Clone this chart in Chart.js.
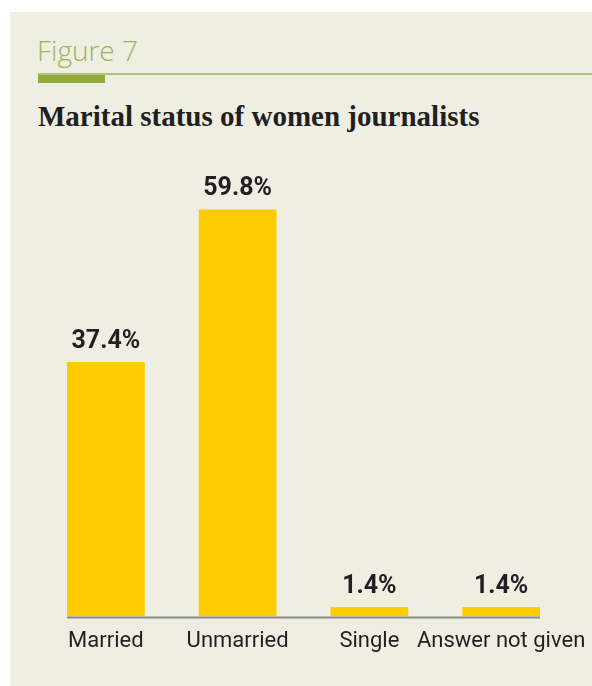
<!DOCTYPE html>
<html lang="en">
<head>
<meta charset="UTF-8">
<title>Figure 7 - Marital status of women journalists</title>
<script src="https://cdn.jsdelivr.net/npm/chart.js@4.4.0/dist/chart.umd.min.js"></script>
<style>
    html, body { margin: 0; padding: 0; background: #ffffff; }
    body { width: 592px; height: 686px; position: relative; overflow: hidden; }
    .panel {
        position: absolute; left: 10px; top: 12px; right: 0; bottom: 0;
        background: #efeee3;
    }
    .fig-label {
        position: absolute; left: 37px; top: 30px;
        font-family: "Open Sans", sans-serif; font-weight: 300;
        font-size: 28px; color: #9bb55a; line-height: 40px;
    }
    .rule {
        position: absolute; left: 38px; right: 0; top: 73px; height: 2px;
        background: #adc47a;
    }
    .rule-bar {
        position: absolute; left: 38px; width: 67px; top: 75px; height: 8px;
        background: #94ab3c;
    }
    .title {
        position: absolute; left: 38px; top: 96px;
        font-family: "Liberation Serif", "DejaVu Serif", serif; font-weight: bold;
        font-size: 29px; color: #231f20; line-height: 40px;
    }
    #chartBox {
        position: absolute; left: 0; top: 130px; width: 592px; height: 537px;
    }
</style>
</head>
<body>
    <div class="panel"></div>
    <div class="fig-label">Figure 7</div>
    <div class="rule"></div>
    <div class="rule-bar"></div>
    <div class="title">Marital status of women journalists</div>
    <div id="chartBox"><canvas id="maritalChart"></canvas></div>

<script>
    const categories = ['Married', 'Unmarried', 'Single', 'Answer not given'];
    const shares = [37.4, 59.8, 1.4, 1.4];
    const shareLabels = ['37.4%', '59.8%', '1.4%', '1.4%'];

    const textColor = '#231f20';
    const labelFont = 'Roboto, "DejaVu Sans", sans-serif';

    // values above each bar + the grey base line under the bars
    const barExtras = {
        id: 'barExtras',
        afterDatasetsDraw(chart) {
            const ctx = chart.ctx;
            const bars = chart.getDatasetMeta(0).data;
            ctx.save();
            const first = bars[0], last = bars[bars.length - 1];
            ctx.strokeStyle = '#8c8c8c';
            ctx.lineWidth = 2;
            ctx.beginPath();
            ctx.moveTo(first.x - first.width / 2, chart.chartArea.bottom + 1);
            ctx.lineTo(last.x + last.width / 2, chart.chartArea.bottom + 1);
            ctx.stroke();

            ctx.fillStyle = textColor;
            ctx.font = 'bold 25px ' + labelFont;
            ctx.textAlign = 'center';
            ctx.textBaseline = 'alphabetic';
            bars.forEach((bar, i) => {
                ctx.fillText(shareLabels[i], bar.x, bar.y - 14);
            });
            ctx.restore();
        }
    };

    new Chart(document.getElementById('maritalChart'), {
        type: 'bar',
        data: {
            labels: categories,
            datasets: [{
                data: shares,
                backgroundColor: '#fecb00',
                borderWidth: 0,
                barPercentage: 0.59,
                categoryPercentage: 1
            }]
        },
        options: {
            responsive: true,
            maintainAspectRatio: false,
            animation: false,
            layout: { padding: { left: 40, right: 25, top: 10, bottom: 0 } },
            plugins: {
                legend: { display: false },
                tooltip: { enabled: false }
            },
            scales: {
                x: {
                    grid: { display: false, drawTicks: false },
                    border: { display: false },
                    ticks: {
                        color: textColor,
                        padding: 12,
                        maxRotation: 0,
                        autoSkip: false,
                        font: { family: labelFont, size: 22 }
                    },
                    // long last label may overhang the plot, as in the print figure
                    afterFit(scale) {
                        scale.paddingLeft = 0;
                        scale.paddingRight = 0;
                    }
                },
                y: {
                    display: false,
                    min: 0,
                    max: 70
                }
            }
        },
        plugins: [barExtras]
    });
</script>
</body>
</html>
